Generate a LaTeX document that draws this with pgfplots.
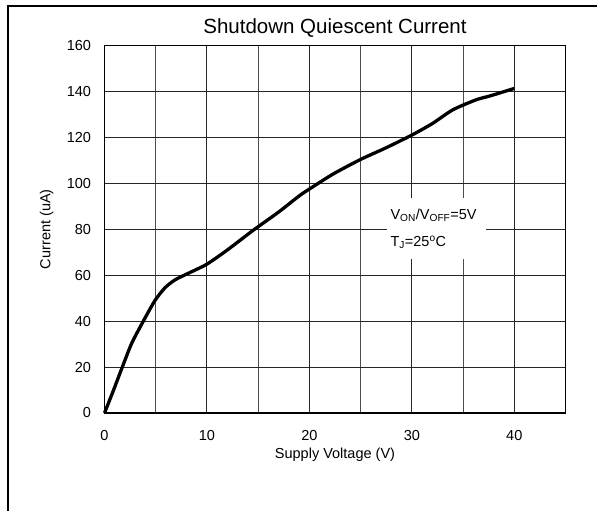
\documentclass[border=0pt]{standalone}
\usepackage{fontspec}
\setmainfont{Liberation Sans}
\usepackage{pgfplots}
\pgfplotsset{compat=1.18}
\begin{document}
\begin{tikzpicture}
\path[use as bounding box] (0,0) rectangle (597pt,511pt);
\draw[line width=2pt] (8pt,0pt) -- (8pt,505pt) -- (597pt,505pt);
\begin{axis}[
  at={(104.5pt,98pt)}, anchor=south west,
  width=461pt, height=367.5pt, scale only axis,
  xmin=0, xmax=45, ymin=0, ymax=160,
  xtick={0,10,...,40}, minor xtick={5,15,...,45},
  ytick={0,20,...,160},
  grid=both,
  major grid style={black!85, line width=0.9pt},
  minor grid style={black!70, line width=0.9pt},
  axis line style={black, line width=1.3pt},
  major tick length=0pt, minor tick length=0pt,
  tick label style={font=\fontsize{14.5}{16}\selectfont},
  /pgf/number format/assume math mode=true,
  xticklabel style={yshift=-14pt},
  yticklabel style={xshift=-10pt},
  xlabel={Supply Voltage (V)},
  ylabel={Current (uA)},
  label style={font=\fontsize{14.5}{16}\selectfont},
  xlabel style={at={(axis description cs:0.5,0)}, anchor=center, yshift=-42pt},
  ylabel style={at={(axis description cs:0,0.5)}, anchor=center, yshift=58pt},
  title={Shutdown Quiescent Current},
  title style={font=\fontsize{20.5}{23}\selectfont, yshift=-1pt},
  clip=false,
]
\addplot[black, line width=3.3pt, smooth, tension=0.4] coordinates {
(0,0) (0.8,9) (1.68,19.3) (2.65,30.3) (3.79,40) (4.93,49) (5.9,54.5)
(6.9,58) (8.5,61.5) (10,64.8) (12,71) (14.5,79.5) (17,87.5) (19,94.5)
(20,97.5) (22.3,104) (25,110.4) (27.5,115.5) (30,121) (32,126) (34,132)
(36.3,136.4) (37.6,138) (40,141.3)
};
\fill[white] (axis cs:27.6,67) rectangle (axis cs:37.2,93.6);
\node[anchor=west, inner sep=0pt, font=\fontsize{14.5}{16}\selectfont] at (axis cs:27.9,86.2)
  {V\textsubscript{ON}/V\textsubscript{OFF}=5V};
\node[anchor=west, inner sep=0pt, font=\fontsize{14.5}{16}\selectfont] at (axis cs:27.9,74.4)
  {T\textsubscript{J}=25\textsuperscript{o}C};
\end{axis}
\end{tikzpicture}
\end{document}
